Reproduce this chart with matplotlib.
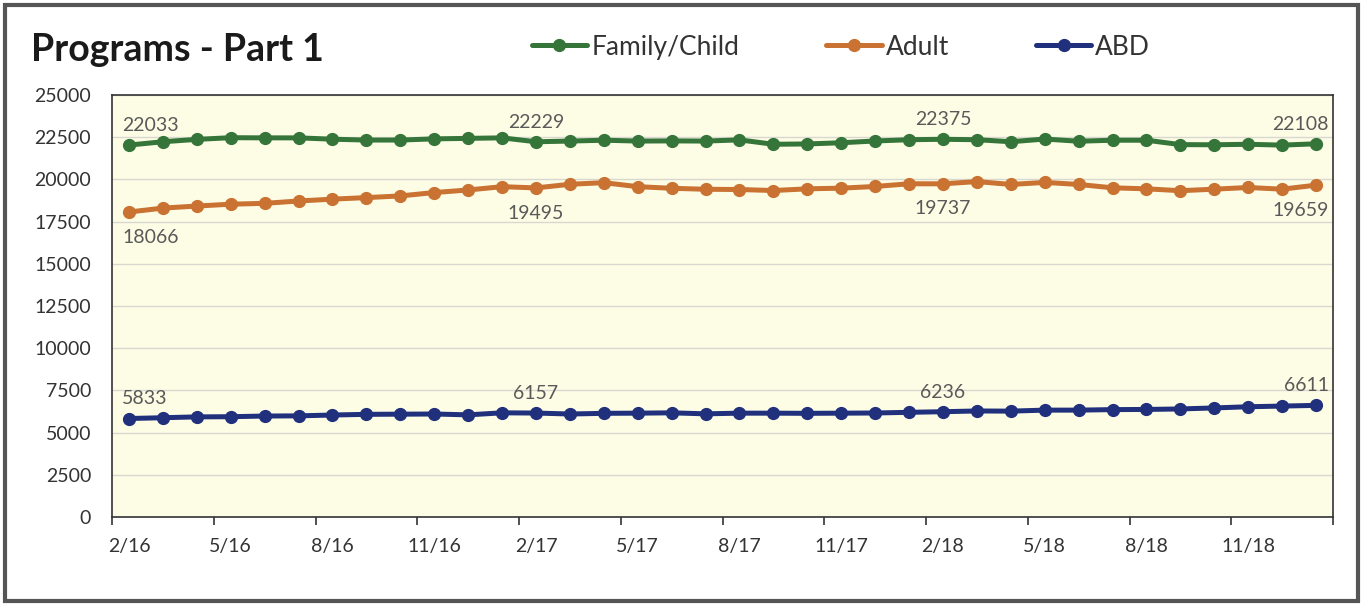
import numpy as np
import matplotlib
matplotlib.use("Agg")
import matplotlib.pyplot as plt
from matplotlib.patches import Rectangle

plt.rcParams['font.family'] = ['Lato', 'DejaVu Sans']

# months 2/16 .. 1/19
months = [f"{m}/{y}" for y, ms in ((16, range(2, 13)), (17, range(1, 13)),
                                   (18, range(1, 13)), (19, range(1, 2))) for m in ms]

family_child = [22033, 22230, 22370, 22470, 22460, 22460, 22380, 22330, 22330, 22400,
                22430, 22460, 22229, 22270, 22320, 22270, 22280, 22270, 22340, 22080,
                22100, 22170, 22275, 22350, 22375, 22350, 22230, 22390, 22260, 22320,
                22320, 22060, 22050, 22080, 22030, 22108]
adult = [18066, 18300, 18420, 18530, 18580, 18720, 18830, 18920, 19020, 19220,
         19372, 19568, 19495, 19710, 19805, 19568, 19473, 19414, 19400, 19340,
         19440, 19480, 19580, 19740, 19737, 19870, 19700, 19820, 19700, 19500,
         19440, 19330, 19420, 19520, 19420, 19659]
abd = [5833, 5880, 5930, 5940, 5980, 5990, 6040, 6080, 6090, 6100,
       6050, 6170, 6157, 6100, 6140, 6150, 6170, 6110, 6150, 6150,
       6140, 6150, 6160, 6200, 6236, 6280, 6270, 6330, 6330, 6360,
       6370, 6400, 6460, 6530, 6570, 6611]

series = [("Family/Child", family_child, "#367539", 'above'),
          ("Adult", adult, "#c97232", 'below'),
          ("ABD", abd, "#20307c", 'above')]
label_idx = [0, 12, 24, 35]

fig = plt.figure(figsize=(13.63, 6.05), dpi=100)
ax = fig.add_axes([0.0822, 0.1455, 0.8958, 0.6975])
ax.set_facecolor('#fdfde6')

x = np.arange(len(months))
for name, vals, col, pos in series:
    ax.plot(x, vals, color=col, lw=3.6, marker='o', markersize=8.5, label=name,
            solid_capstyle='round', zorder=3)
    for i in label_idx:
        dy = 8 if pos == 'above' else -12
        va = 'bottom' if pos == 'above' else 'top'
        ha, dx = 'center', 0
        if i == 0:
            ha, dx = 'left', -5
        elif i == len(months) - 1:
            ha, dx = 'right', 9
        ax.annotate(str(vals[i]), (x[i], vals[i]), xytext=(dx, dy),
                    textcoords='offset points', ha=ha, va=va,
                    fontsize=14, color='#595959')

ax.set_ylim(0, 25000)
ax.set_yticks(np.arange(0, 25001, 2500))
ax.tick_params(axis='y', length=0, labelsize=14, labelcolor='#333333', pad=15)
ax.grid(axis='y', color='#d8d8d0', lw=1)
ax.set_axisbelow(True)

ax.set_xlim(-0.5, len(months) - 0.5)
ax.set_xticks(np.arange(-0.5, len(months), 3))
ax.set_xticklabels([])
ax.set_xticks(x[::3], minor=True)
ax.set_xticklabels(months[::3], minor=True)
ax.tick_params(axis='x', which='major', length=6, width=1.2, color='#333333')
ax.tick_params(axis='x', which='minor', length=0, labelsize=14,
               labelcolor='#333333', pad=15)

for s in ax.spines.values():
    s.set_color('#333333')
    s.set_linewidth(1.2)

fig.text(0.023, 0.918, "Programs - Part 1", fontsize=27, fontweight='bold',
         color='#1a1a1a', va='center', ha='left')

fig.legend(loc='center', bbox_to_anchor=(0.617, 0.922), ncol=3, frameon=False,
           fontsize=19, handlelength=2.1, handletextpad=0.15, columnspacing=3.3,
           labelcolor='#333333')

fig.patches.append(Rectangle((0.004, 0.006), 0.992, 0.985, transform=fig.transFigure,
                             fill=False, edgecolor='#555555', lw=3))

fig.savefig('out.png', dpi=100)
